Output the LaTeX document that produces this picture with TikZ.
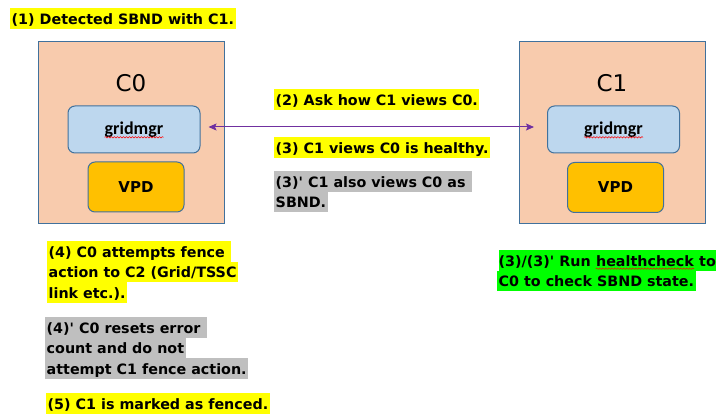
\documentclass[tikz,border=0pt]{standalone}
\usepackage{fontspec}
\usetikzlibrary{arrows.meta,decorations.pathmorphing}
\setmainfont{DejaVu Sans}
\newfontfamily\notefont{DejaVu Sans}
\newfontfamily\modfont{Carlito}

\definecolor{peach}{HTML}{F8CBAD}
\definecolor{edgeblue}{HTML}{41719C}
\definecolor{paleblue}{HTML}{BDD7EE}
\definecolor{amber}{HTML}{FFC000}
\definecolor{hlyellow}{HTML}{FFFF00}
\definecolor{hlgray}{HTML}{BFBFBF}
\definecolor{hlgreen}{HTML}{00FF00}
\definecolor{linkpurple}{HTML}{7030A0}

\tikzset{
  cluster/.style={draw=edgeblue, fill=peach, line width=1pt, anchor=north west,
    minimum width=186pt, minimum height=182pt, inner sep=0pt},
  clustername/.style={font=\notefont\fontsize{23}{27}\selectfont, inner sep=0pt},
  mgrbox/.style={draw=edgeblue, fill=paleblue, line width=1pt, rounded corners=7pt,
    minimum width=132pt, minimum height=47pt},
  mgrtext/.style={font=\modfont\bfseries\fontsize{18}{20}\selectfont, inner sep=0pt},
  vpdbox/.style={draw=edgeblue, fill=amber, line width=1pt, rounded corners=7pt,
    minimum width=96pt, minimum height=50pt,
    font=\notefont\bfseries\fontsize{15}{18}\selectfont},
  note/.style={anchor=north west, inner xsep=1.5pt, inner ysep=0pt,
    text height=16pt, text depth=4.5pt,
    font=\notefont\bfseries\fontsize{14.3}{17}\selectfont},
  noteY/.style={note, fill=hlyellow},
  noteG/.style={note, fill=hlgray},
  noteL/.style={note, fill=hlgreen},
  link/.style={draw=linkpurple, line width=1pt,
    {Stealth[length=8pt,width=7pt,inset=1.5pt]}-{Stealth[length=8pt,width=7pt,inset=1.5pt]}},
  spellwave/.style={draw=red, line width=0.5pt, decorate,
    decoration={snake, amplitude=0.7pt, segment length=3pt}}
}

\begin{document}
\begin{tikzpicture}[x=1pt,y=-1pt]
\useasboundingbox (0,0) rectangle (720,414);

% cluster nodes
\node[cluster] (c0) at (38,41) {};
\node[clustername] (c0name) at (131,83) {C0};
\node[mgrbox] (g0) at (134,129.5) {};
\node[mgrtext] (g0t) at (g0.center) {gridmgr};
\node[vpdbox] (v0) at (136,187) {VPD};

\node[cluster] (c1) at (519,41) {};
\node[clustername] (c1name) at (612,83) {C1};
\node[mgrbox] (g1) at (613.5,129.5) {};
\node[mgrtext] (g1t) at (g1.center) {gridmgr};
\node[vpdbox] (v1) at (615.5,187.5) {VPD};

% spell-check underlines
\draw[spellwave] ([yshift=-3pt]g0t.base west) -- ([yshift=-3pt]g0t.base east);
\draw[spellwave] ([yshift=-3pt]g1t.base west) -- ([yshift=-3pt]g1t.base east);

% link between the two gridmgr instances
\draw[link, shorten <=8pt, shorten >=13pt]
  ([yshift=2.5pt]g0.east) -- ([yshift=2.5pt]g1.west);

% step notes
\node[noteY] (s1) at (10,8) {(1) Detected SBND with C1.};
\node[noteY] (s2) at (274,89) {(2) Ask how C1 views C0.};
\node[noteY] (s3) at (274,137) {(3) C1 views C0 is healthy.};
\node[noteG] (s3a) at (274,171) {(3)' C1 also views C0 as\ \null};
\node[noteG] (s3b) at (274,191.5) {SBND.};

\node[noteY] (s4a) at (47,241) {(4) C0 attempts fence\ \null};
\node[noteY] (s4b) at (47,261.5) {action to C2 (Grid/TSSC};
\node[noteY] (s4c) at (47,282) {link etc.).};

\node[noteG] (s4pa) at (45,317) {(4)' C0 resets error\ \null};
\node[noteG] (s4pb) at (45,337.5) {count and do not};
\node[noteG] (s4pc) at (45,358) {attempt C1 fence action.};

\node[noteY] (s5) at (46,393) {(5) C1 is marked as fenced.};

\node[noteL, inner xsep=0pt, xshift=1.5pt] (hc1) at (497,250) {(3)/(3)' Run\ \null};
\node[noteL, inner xsep=0pt, anchor=north west] (hc2) at (hc1.north east) {healthcheck};
\node[noteL, inner xsep=0pt, anchor=north west] (hc3) at (hc2.north east) {\ to};
\node[noteL] (hc4) at (497,270.5) {C0 to check SBND state.};
\draw[spellwave] ([yshift=-2.5pt]hc2.base west) -- ([yshift=-2.5pt]hc2.base east);
\end{tikzpicture}
\end{document}
